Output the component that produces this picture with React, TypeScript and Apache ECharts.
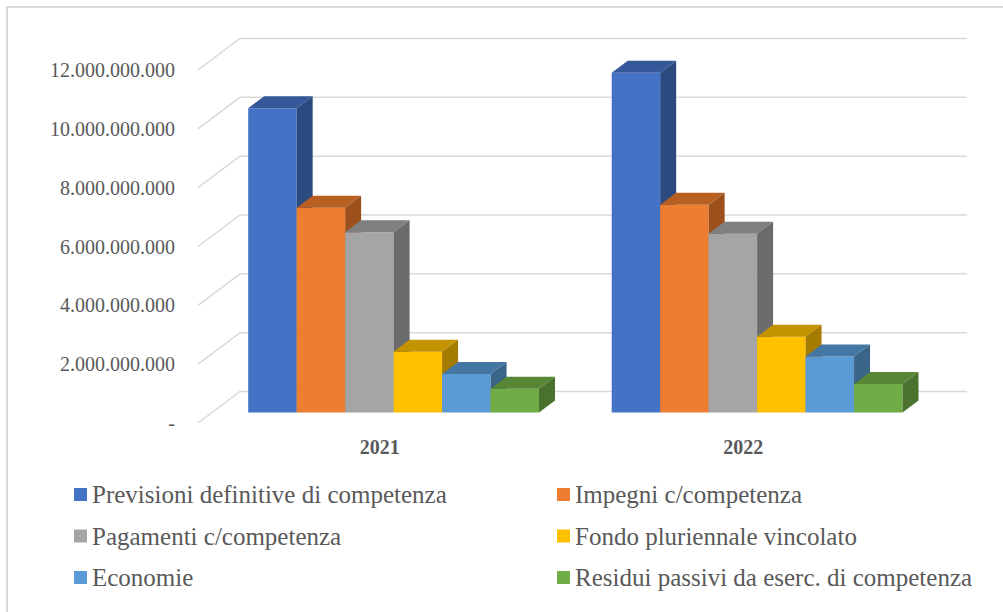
import React, { useEffect, useRef } from "react";
import * as echarts from "echarts";

const categories = ["2021", "2022"];
const seriesNames = [
  "Previsioni definitive di competenza",
  "Impegni c/competenza",
  "Pagamenti c/competenza",
  "Fondo pluriennale vincolato",
  "Economie",
  "Residui passivi da eserc. di competenza",
];
const previsioni = [10350000000, 11550000000];
const impegni = [6960000000, 7070000000];
const pagamenti = [6130000000, 6080000000];
const fondo = [2070000000, 2580000000];
const economie = [1310000000, 1910000000];
const residui = [810000000, 970000000];
const yTicks = [0, 2000000000, 4000000000, 6000000000, 8000000000, 10000000000, 12000000000];

const seriesValues = [previsioni, impegni, pagamenti, fondo, economie, residui];

const frontColors = ["#4472C4", "#ED7D31", "#A5A5A5", "#FFC000", "#5B9BD5", "#70AD47"];
const topColors = ["#34589A", "#B85F22", "#808080", "#C49300", "#4577A4", "#578636"];
const sideColors = ["#2B4A80", "#9C511C", "#6B6B6B", "#A67C00", "#3A6488", "#4A712D"];

const WALL_DX = 42;
const WALL_DY = -31.5;
const FRONT_F = 0.33;
const BAR_DX = 16;
const BAR_DY = -12;
const GROUP_FRAC = 0.8;
const FONT = "Liberation Serif";
const TEXT_COLOR = "#595959";

function fmt(v: number): string {
  if (v === 0) return "-";
  return String(Math.round(v)).replace(/\B(?=(\d{3})+(?!\d))/g, ".");
}

function makeBarRender(k: number) {
  return (params: any, api: any) => {
    const cat = api.value(0);
    const val = api.value(1);
    const base = api.coord([cat, 0]);
    const top = api.coord([cat, val]);
    const band = api.size([1, 0])[0];
    const n = seriesValues.length;
    const bw = (band * GROUP_FRAC) / n;
    const fdx = WALL_DX * FRONT_F;
    const fdy = WALL_DY * FRONT_F;
    const x0 = base[0] - (band * GROUP_FRAC) / 2 + k * bw + fdx;
    const x1 = x0 + bw;
    const yb = base[1] + fdy;
    const yt = top[1] + fdy;
    return {
      type: "group",
      children: [
        {
          type: "polygon",
          shape: { points: [[x0, yt], [x1, yt], [x1, yb], [x0, yb]] },
          style: { fill: frontColors[k] },
        },
        {
          type: "polygon",
          shape: {
            points: [[x0, yt], [x1, yt], [x1 + BAR_DX, yt + BAR_DY], [x0 + BAR_DX, yt + BAR_DY]],
          },
          style: { fill: topColors[k] },
        },
        {
          type: "polygon",
          shape: {
            points: [[x1, yt], [x1 + BAR_DX, yt + BAR_DY], [x1 + BAR_DX, yb + BAR_DY], [x1, yb]],
          },
          style: { fill: sideColors[k] },
        },
      ],
    };
  };
}

function gridRender(params: any, api: any) {
  const cs = params.coordSys;
  const y = api.coord([0, api.value(1)])[1];
  return {
    type: "polyline",
    shape: {
      points: [
        [cs.x, y],
        [cs.x + WALL_DX, y + WALL_DY],
        [cs.x + cs.width + WALL_DX, y + WALL_DY],
      ],
    },
    style: { stroke: "#D9D9D9", lineWidth: 1.5, fill: "none" },
  };
}

export default function App() {
  const ref = useRef<HTMLDivElement>(null);
  useEffect(() => {
    if (!ref.current) return;
    const chart = echarts.init(ref.current, undefined, { renderer: "svg" });
    const barSeries = seriesNames.map((name, k) => ({
      name,
      type: "custom",
      z: 10 + k,
      itemStyle: { color: frontColors[k] },
      renderItem: makeBarRender(k),
      data: categories.map((_, i) => [i, seriesValues[k][i]]),
    }));
    const legendText = { fontFamily: FONT, fontSize: 25, color: TEXT_COLOR, lineHeight: 25 };
    chart.setOption({
      animation: false,
      backgroundColor: "#ffffff",
      textStyle: { fontFamily: FONT },
      graphic: [
        {
          type: "rect",
          shape: { x: 7, y: 7, width: 1020, height: 630 },
          style: { fill: "none", stroke: "#D9D9D9", lineWidth: 2 },
          silent: true,
        },
      ],
      grid: { left: 198, top: 70, width: 727, height: 353 },
      xAxis: {
        type: "category",
        data: categories,
        axisLine: { show: false },
        axisTick: { show: false },
        axisLabel: {
          fontFamily: FONT,
          fontSize: 20,
          fontWeight: "bold",
          color: TEXT_COLOR,
          margin: 14,
        },
      },
      yAxis: {
        type: "value",
        min: 0,
        max: 12000000000,
        interval: 2000000000,
        axisLine: { show: false },
        axisTick: { show: false },
        splitLine: { show: false },
        axisLabel: {
          fontFamily: FONT,
          fontSize: 20,
          color: TEXT_COLOR,
          margin: 23,
          formatter: (v: number) => fmt(v),
        },
      },
      legend: [
        {
          orient: "vertical",
          left: 74,
          top: 482,
          padding: 0,
          itemWidth: 13,
          itemHeight: 13,
          itemGap: 16.5,
          icon: "rect",
          data: [seriesNames[0], seriesNames[2], seriesNames[4]],
          textStyle: legendText,
          selectedMode: false,
        },
        {
          orient: "vertical",
          left: 557,
          top: 482,
          padding: 0,
          itemWidth: 13,
          itemHeight: 13,
          itemGap: 16.5,
          icon: "rect",
          data: [seriesNames[1], seriesNames[3], seriesNames[5]],
          textStyle: legendText,
          selectedMode: false,
        },
      ],
      series: [
        {
          name: "grid",
          type: "custom",
          z: 1,
          silent: true,
          renderItem: gridRender,
          data: yTicks.map((v) => [0, v]),
        },
        ...barSeries,
      ],
    });
    return () => chart.dispose();
  }, []);
  return (
    <div
      ref={ref}
      style={{ position: "fixed", left: 0, top: 0, width: 1003, height: 612, background: "#fff" }}
    />
  );
}
